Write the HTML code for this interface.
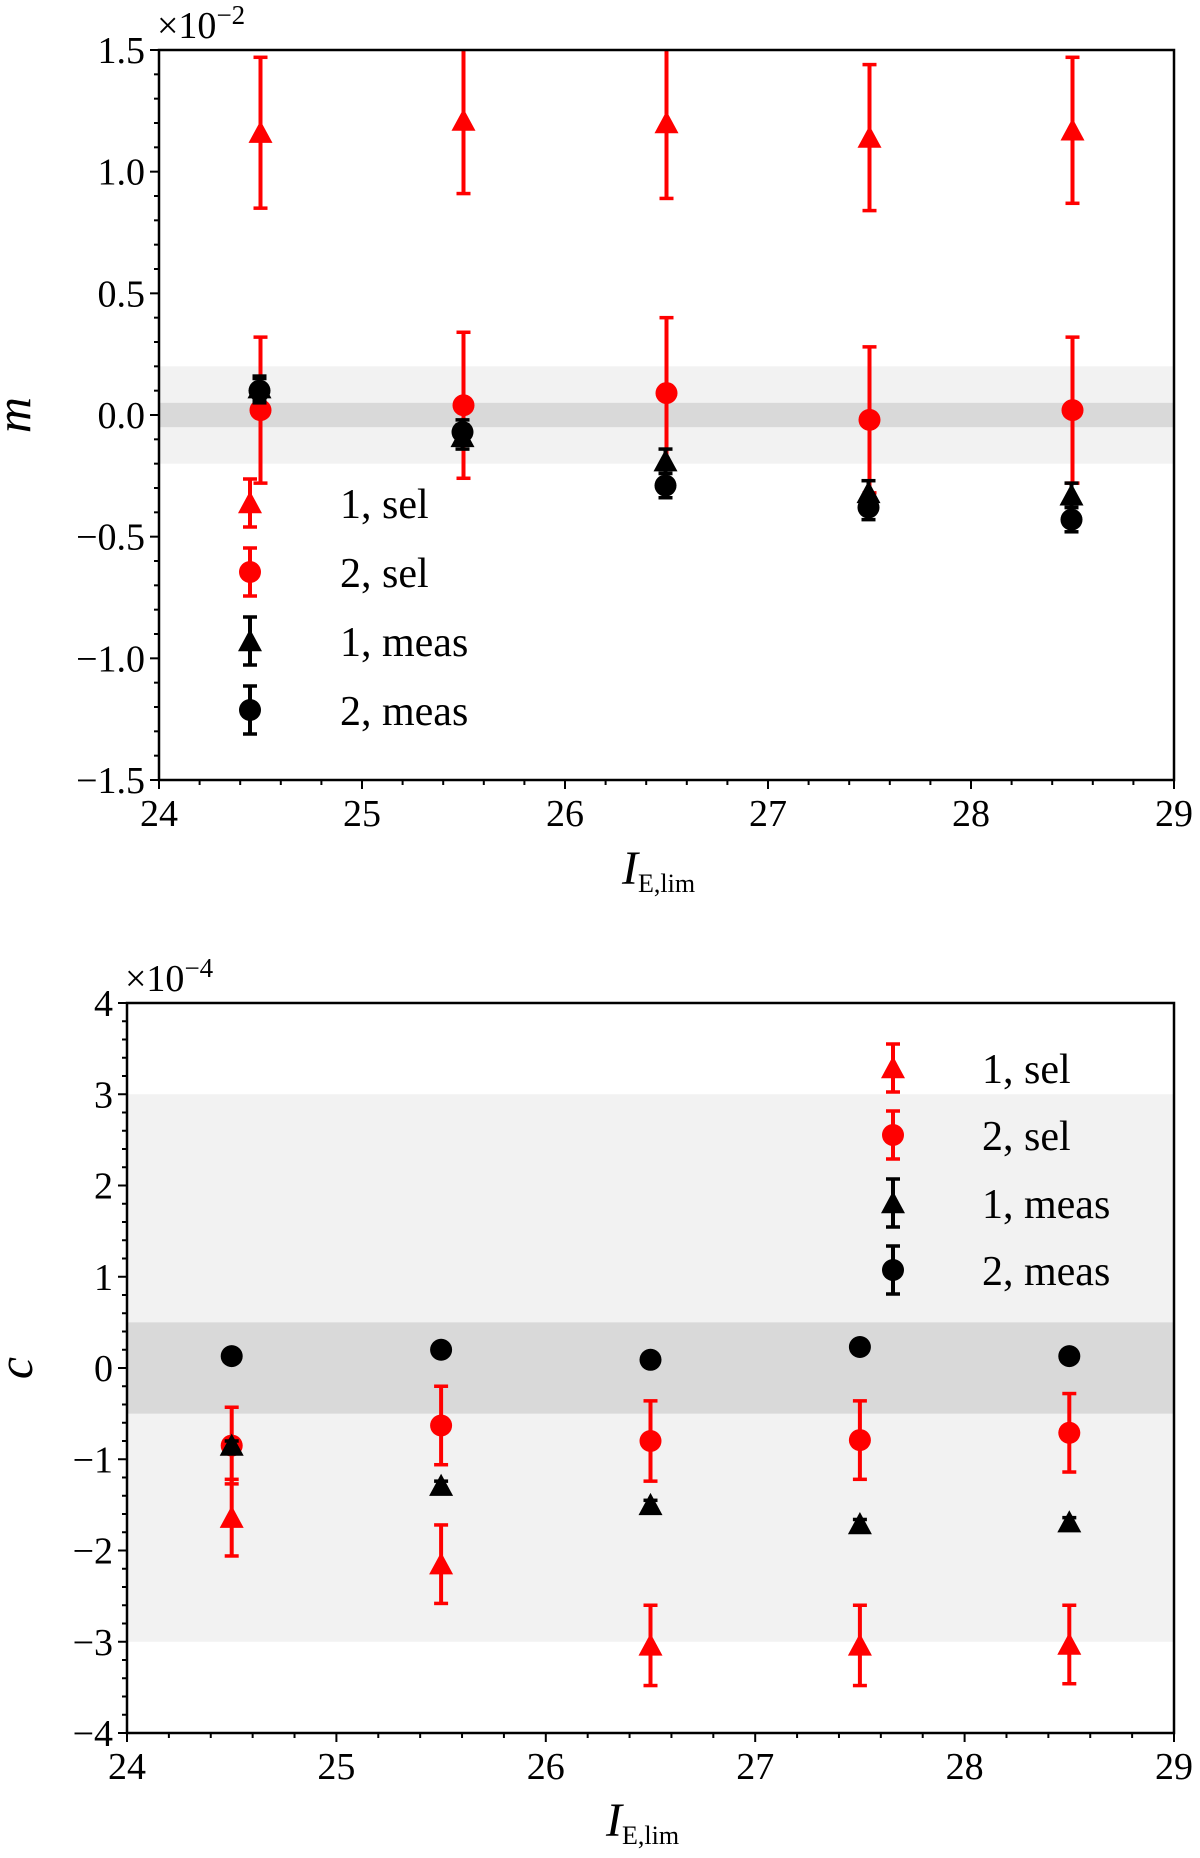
<!DOCTYPE html>
<html><head><meta charset="utf-8">
<style>
html,body{margin:0;padding:0;background:#fff;}
svg{display:block;font-family:"Liberation Serif",serif;}
</style></head>
<body>
<svg id="chart" width="1200" height="1858" viewBox="0 0 1200 1858" xmlns="http://www.w3.org/2000/svg"></svg>
<script>
// ---- data ----
const xCats = [24.5, 25.5, 26.5, 27.5, 28.5];
// top panel (m, units of 1e-2)
const m1sel = [1.16, 1.21, 1.20, 1.14, 1.17];
const m1selErr = [0.31, 0.30, 0.31, 0.30, 0.30];
const m2sel = [0.02, 0.04, 0.09, -0.02, 0.02];
const m2selErr = [0.30, 0.30, 0.31, 0.30, 0.30];
const m1meas = [0.11, -0.09, -0.19, -0.32, -0.33];
const m1measErr = [0.05, 0.05, 0.05, 0.05, 0.05];
const m2meas = [0.10, -0.07, -0.29, -0.38, -0.43];
const m2measErr = [0.05, 0.05, 0.05, 0.05, 0.05];
const mTicks = [-1.5, -1.0, -0.5, 0.0, 0.5, 1.0, 1.5];
const mTickLabels = ["\u22121.5", "\u22121.0", "\u22120.5", "0.0", "0.5", "1.0", "1.5"];
const mBands = [0.2, 0.05];
// bottom panel (c, units of 1e-4)
const c1sel = [-1.64, -2.15, -3.04, -3.04, -3.03];
const c1selErr = [0.42, 0.43, 0.44, 0.44, 0.43];
const c2sel = [-0.85, -0.63, -0.80, -0.79, -0.71];
const c2selErr = [0.42, 0.43, 0.44, 0.43, 0.43];
const c1meas = [-0.85, -1.29, -1.50, -1.71, -1.69];
const c1measErr = [0.05, 0.05, 0.05, 0.05, 0.05];
const c2meas = [0.13, 0.20, 0.09, 0.23, 0.13];
const c2measErr = [0.02, 0.02, 0.02, 0.02, 0.02];
const cTicks = [-4, -3, -2, -1, 0, 1, 2, 3, 4];
const cTickLabels = ["\u22124", "\u22123", "\u22122", "\u22121", "0", "1", "2", "3", "4"];
const cBands = [3, 0.5];
const xTicks = [24, 25, 26, 27, 28, 29];
const xTickLabels = ["24", "25", "26", "27", "28", "29"];
const legendLabels = ["1, sel", "2, sel", "1, meas", "2, meas"];

const NS = "http://www.w3.org/2000/svg";
const svg = document.getElementById("chart");
function mk(tag, attrs, parent) {
  const e = document.createElementNS(NS, tag);
  for (const k in attrs) e.setAttribute(k, attrs[k]);
  (parent || svg).appendChild(e);
  return e;
}
const RED = "#ff0000", BLK = "#000000";

function marker(g, kind, cx, cy, color) {
  if (kind === "tri") {
    const s = 12;
    return mk("polygon", {points: `${cx},${cy - s} ${cx - s},${cy + s * 0.85} ${cx + s},${cy + s * 0.85}`, fill: color}, g);
  }
  return mk("circle", {cx: cx, cy: cy, r: 11, fill: color}, g);
}
function errbar(g, cx, y1, y2, color) {
  mk("line", {x1: cx, x2: cx, y1: y1, y2: y2, stroke: color, "stroke-width": 4}, g);
  mk("line", {x1: cx - 7, x2: cx + 7, y1: y1, y2: y1, stroke: color, "stroke-width": 3.5}, g);
  mk("line", {x1: cx - 7, x2: cx + 7, y1: y2, y2: y2, stroke: color, "stroke-width": 3.5}, g);
}

function panel(cfg) {
  const {L, R, T, B, ymin, ymax, yminor, name} = cfg;
  const xs = v => L + (v - 24) / 5 * (R - L);
  const ys = v => T + (ymax - v) / (ymax - ymin) * (B - T);
  const g = mk("g", {});
  
  
  const clipId = name + "-clip";
  const cp = mk("clipPath", {id: clipId}, g);
  mk("rect", {x: L, y: T, width: R - L, height: B - T}, cp);
  const outer = mk("rect", {x: L, y: ys(cfg.bands[0]), width: R - L, height: ys(-cfg.bands[0]) - ys(cfg.bands[0]), fill: "#f2f2f2"}, g);
  
  
  const inner = mk("rect", {x: L, y: ys(cfg.bands[1]), width: R - L, height: ys(-cfg.bands[1]) - ys(cfg.bands[1]), fill: "#d9d9d9"}, g);
  
  
  const dg = mk("g", {"clip-path": `url(#${clipId})`}, g);
  const series = cfg.series;
  series.forEach(s => {
    const sg = mk("g", {}, dg);
    
    
    xCats.forEach((x, i) => {
      const cx = xs(x) + (s.dx || 0);
      errbar(sg, cx, ys(s.vals[i] + s.err[i]), ys(s.vals[i] - s.err[i]), s.color);
      const mEl = marker(sg, s.kind, cx, ys(s.vals[i]), s.color);
      
      
    });
  });
  const fr = mk("rect", {x: L, y: T, width: R - L, height: B - T, fill: "none", stroke: "#000", "stroke-width": 2.5}, g);
  
  
  for (let v = 24; v <= 29.0001; v += 0.2) {
    const major = Math.abs(v - Math.round(v)) < 1e-6;
    mk("line", {x1: xs(v), x2: xs(v), y1: B, y2: B + (major ? 9 : 5), stroke: "#000", "stroke-width": 2}, g);
  }
  xTicks.forEach((t, i) => {
    const tx = mk("text", {x: xs(t), y: B + 46, "font-size": 38, "text-anchor": "middle"}, g);
    tx.textContent = xTickLabels[i];
    
    
  });
  const nMinor = Math.round((ymax - ymin) / yminor);
  for (let k = 0; k <= nMinor; k++) {
    const v = ymin + k * yminor;
    const major = cfg.ticks.some(t => Math.abs(t - v) < 1e-6);
    mk("line", {x1: L, x2: L - (major ? 9 : 5), y1: ys(v), y2: ys(v), stroke: "#000", "stroke-width": 2}, g);
  }
  cfg.ticks.forEach((t, i) => {
    const tx = mk("text", {x: L - 14, y: ys(t) + 13, "font-size": 38, "text-anchor": "end"}, g);
    tx.textContent = cfg.tickLabels[i];
    
    
  });
  const off = mk("text", {x: L - 2, y: T - 12, "font-size": 38}, g);
  
  
  off.textContent = "\u00d710";
  const sup = mk("tspan", {dy: -14, "font-size": 27}, off);
  sup.textContent = cfg.exp;
  const yl = mk("text", {x: cfg.ylx, y: (T + B) / 2, "font-size": 50, "font-style": "italic", "text-anchor": "middle", transform: `rotate(-90 ${cfg.ylx} ${(T + B) / 2})`}, g);
  yl.textContent = cfg.ylabel;
  
  
  const xl = mk("text", {x: cfg.xlx, y: cfg.xly, "font-size": 48, "font-style": "italic"}, g);
  
  
  xl.textContent = "I";
  const sub = mk("tspan", {dy: 8, "font-size": 26, "font-style": "normal"}, xl);
  sub.textContent = "E,lim";
  const lg = mk("g", {}, g);
  
  
  series.forEach((s, i) => {
    const ey = cfg.legY[i];
    const eg = mk("g", {}, lg);
    
    
    errbar(eg, cfg.legX, ey - 24, ey + 24, s.color);
    marker(eg, s.kind, cfg.legX, ey, s.color);
    const t = mk("text", {x: cfg.legTX, y: ey + 15, "font-size": 42}, eg);
    t.textContent = legendLabels[i];
  });
}

panel({
  name: "m", L: 159, R: 1174, T: 50, B: 780, ymin: -1.5, ymax: 1.5, yminor: 0.1,
  ticks: mTicks, tickLabels: mTickLabels, bands: mBands, exp: "\u22122",
  ylabel: "m", ylx: 30, xlx: 622, xly: 884,
  legX: 250, legTX: 340, legY: [503, 572, 641, 710],
  series: [
    {name: "series-1-sel", kind: "tri", color: RED, vals: m1sel, err: m1selErr},
    {name: "series-2-sel", kind: "circ", color: RED, vals: m2sel, err: m2selErr},
    {name: "series-1-meas", kind: "tri", color: BLK, vals: m1meas, err: m1measErr, dx: -1},
    {name: "series-2-meas", kind: "circ", color: BLK, vals: m2meas, err: m2measErr, dx: -1}
  ]
});
panel({
  name: "c", L: 127, R: 1174, T: 1003, B: 1733, ymin: -4, ymax: 4, yminor: 0.2,
  ticks: cTicks, tickLabels: cTickLabels, bands: cBands, exp: "\u22124",
  ylabel: "c", ylx: 32, xlx: 606, xly: 1836,
  legX: 893, legTX: 982, legY: [1068, 1135, 1203, 1270],
  series: [
    {name: "series-1-sel", kind: "tri", color: RED, vals: c1sel, err: c1selErr},
    {name: "series-2-sel", kind: "circ", color: RED, vals: c2sel, err: c2selErr},
    {name: "series-1-meas", kind: "tri", color: BLK, vals: c1meas, err: c1measErr},
    {name: "series-2-meas", kind: "circ", color: BLK, vals: c2meas, err: c2measErr}
  ]
});
</script>
</body></html>
